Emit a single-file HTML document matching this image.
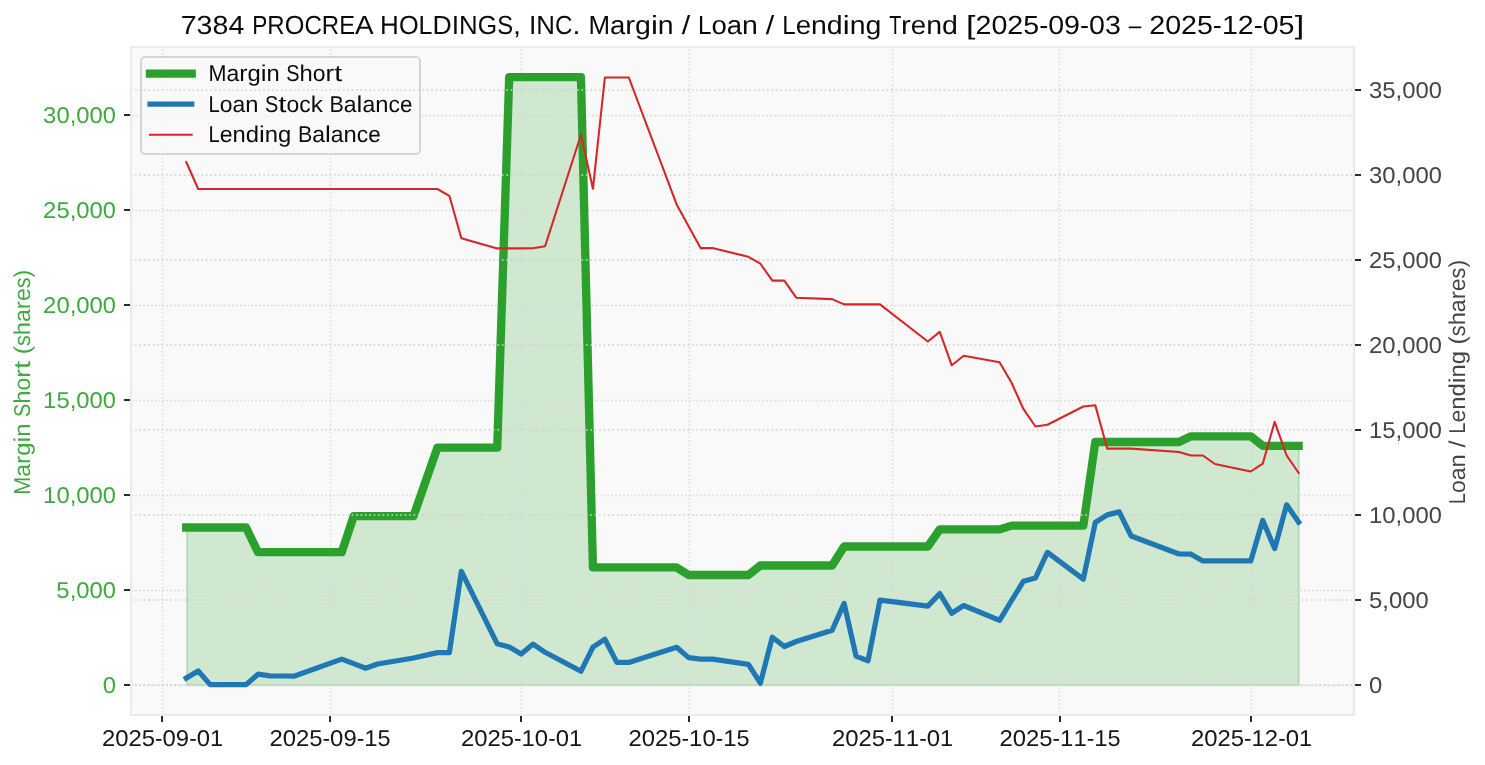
<!DOCTYPE html>
<html><head><meta charset="utf-8"><title>Margin / Loan / Lending Trend</title>
<style>html,body{margin:0;padding:0;background:#fff;}body{width:1485px;height:765px;overflow:hidden;font-family:"Liberation Sans",sans-serif;}svg{display:block;will-change:transform;}</style>
</head><body>
<svg width="1485" height="765" viewBox="0 0 1485 765" font-family="Liberation Sans, sans-serif" text-rendering="geometricPrecision">
<rect width="1485" height="765" fill="#ffffff"/>
<rect x="130.61" y="46.85" width="1223.8899999999999" height="668.34" fill="#f9f9f9"/>
<polygon points="186.90,527.50 198.20,527.50 210.16,527.50 246.05,527.50 258.01,552.20 269.97,552.20 281.93,552.20 293.89,552.20 341.74,552.20 353.70,516.10 365.66,516.10 377.62,516.10 413.50,516.10 437.42,447.70 449.38,447.70 461.35,447.70 497.23,447.70 509.19,77.20 521.15,77.20 533.11,77.20 545.07,77.20 580.95,77.20 592.92,567.40 604.88,567.40 616.84,567.40 628.80,567.40 676.64,567.40 688.60,575.00 700.57,575.00 712.53,575.00 748.41,575.00 760.37,565.50 772.33,565.50 784.29,565.50 796.25,565.50 832.14,565.50 844.10,546.50 856.06,546.50 868.02,546.50 879.98,546.50 927.82,546.50 939.79,529.40 951.75,529.40 963.71,529.40 999.59,529.40 1011.55,525.60 1023.51,525.60 1035.47,525.60 1047.43,525.60 1083.32,525.60 1095.28,442.00 1107.24,442.00 1119.20,442.00 1131.16,442.00 1179.01,442.00 1190.97,436.30 1202.93,436.30 1214.89,436.30 1250.77,436.30 1262.73,445.80 1274.69,445.80 1286.65,445.80 1299.00,445.80 1299.00,685.20 186.90,685.20" fill="#2ca02c" fill-opacity="0.2" stroke="#2ca02c" stroke-opacity="0.2" stroke-width="2.08"/>
<path d="M162.50,715.19V46.85M330.50,715.19V46.85M521.50,715.19V46.85M689.50,715.19V46.85M892.50,715.19V46.85M1059.50,715.19V46.85M1251.50,715.19V46.85" stroke="#d6d6d6" stroke-width="1.46" stroke-dasharray="1.46,2.41" stroke-dashoffset="1.0" fill="none"/>
<path d="M130.61,685.50H1354.50M130.61,590.50H1354.50M130.61,495.50H1354.50M130.61,400.50H1354.50M130.61,305.50H1354.50M130.61,210.50H1354.50M130.61,115.50H1354.50" stroke="#d6d6d6" stroke-width="1.46" stroke-dasharray="1.46,2.41" stroke-dashoffset="2.87" fill="none"/>
<polyline points="186.24,527.50 198.20,527.50 210.16,527.50 246.05,527.50 258.01,552.20 269.97,552.20 281.93,552.20 293.89,552.20 341.74,552.20 353.70,516.10 365.66,516.10 377.62,516.10 413.50,516.10 437.42,447.70 449.38,447.70 461.35,447.70 497.23,447.70 509.19,77.20 521.15,77.20 533.11,77.20 545.07,77.20 580.95,77.20 592.92,567.40 604.88,567.40 616.84,567.40 628.80,567.40 676.64,567.40 688.60,575.00 700.57,575.00 712.53,575.00 748.41,575.00 760.37,565.50 772.33,565.50 784.29,565.50 796.25,565.50 832.14,565.50 844.10,546.50 856.06,546.50 868.02,546.50 879.98,546.50 927.82,546.50 939.79,529.40 951.75,529.40 963.71,529.40 999.59,529.40 1011.55,525.60 1023.51,525.60 1035.47,525.60 1047.43,525.60 1083.32,525.60 1095.28,442.00 1107.24,442.00 1119.20,442.00 1131.16,442.00 1179.01,442.00 1190.97,436.30 1202.93,436.30 1214.89,436.30 1250.77,436.30 1262.73,445.80 1274.69,445.80 1286.65,445.80 1298.62,445.80" fill="none" stroke="#2ca02c" stroke-width="8.33" stroke-linejoin="round" stroke-linecap="square"/>
<rect x="141.0" y="57.0" width="279.0" height="97.0" rx="4.2" ry="4.2" fill="#f9f9f9" fill-opacity="0.8" stroke="#d5d5d5" stroke-width="2"/>
<path d="M150.0,73.6H191.7" stroke="#2ca02c" stroke-width="8.33" stroke-linecap="square"/>
<path d="M150.0,104.2H191.7" stroke="#1f77b4" stroke-width="5.21" stroke-linecap="square"/>
<path d="M150.0,134.8H191.7" stroke="#d62728" stroke-width="2.08" stroke-linecap="square"/>
<text y="81.00" font-size="22.92" fill="#000" fill-opacity="0.955" ><tspan x="208.40" textLength="18.01" lengthAdjust="spacingAndGlyphs">M</tspan><tspan x="226.41">a</tspan><tspan x="239.20" textLength="8.21" lengthAdjust="spacingAndGlyphs">r</tspan><tspan x="247.41" textLength="13.25" lengthAdjust="spacingAndGlyphs">g</tspan><tspan x="260.66" textLength="5.80" lengthAdjust="spacingAndGlyphs">i</tspan><tspan x="266.46" textLength="13.23" lengthAdjust="spacingAndGlyphs">n</tspan> <tspan x="286.33" textLength="13.25" lengthAdjust="spacingAndGlyphs">S</tspan><tspan x="299.58" textLength="13.23" lengthAdjust="spacingAndGlyphs">h</tspan><tspan x="312.81">o</tspan><tspan x="325.58" textLength="8.58" lengthAdjust="spacingAndGlyphs">r</tspan><tspan x="334.16" textLength="7.93" lengthAdjust="spacingAndGlyphs">t</tspan></text>
<text y="111.60" font-size="22.92" fill="#000" fill-opacity="0.955" ><tspan x="208.40" textLength="11.26" lengthAdjust="spacingAndGlyphs">L</tspan><tspan x="219.66">o</tspan><tspan x="232.43">a</tspan><tspan x="245.22" textLength="13.23" lengthAdjust="spacingAndGlyphs">n</tspan> <tspan x="265.08" textLength="13.25" lengthAdjust="spacingAndGlyphs">S</tspan><tspan x="278.34" textLength="8.18" lengthAdjust="spacingAndGlyphs">t</tspan><tspan x="286.52">o</tspan><tspan x="299.29">c</tspan><tspan x="310.77" textLength="12.09" lengthAdjust="spacingAndGlyphs">k</tspan> <tspan x="329.49" textLength="14.32" lengthAdjust="spacingAndGlyphs">B</tspan><tspan x="343.81">a</tspan><tspan x="356.61" textLength="5.80" lengthAdjust="spacingAndGlyphs">l</tspan><tspan x="362.41">a</tspan><tspan x="375.20" textLength="13.23" lengthAdjust="spacingAndGlyphs">n</tspan><tspan x="388.43">c</tspan><tspan x="399.91" textLength="12.44" lengthAdjust="spacingAndGlyphs">e</tspan></text>
<text y="142.20" font-size="22.92" fill="#000" fill-opacity="0.955" ><tspan x="208.40" textLength="11.26" lengthAdjust="spacingAndGlyphs">L</tspan><tspan x="219.66" textLength="12.84" lengthAdjust="spacingAndGlyphs">e</tspan><tspan x="232.50" textLength="13.23" lengthAdjust="spacingAndGlyphs">n</tspan><tspan x="245.73" textLength="13.25" lengthAdjust="spacingAndGlyphs">d</tspan><tspan x="258.98" textLength="5.80" lengthAdjust="spacingAndGlyphs">i</tspan><tspan x="264.78" textLength="13.23" lengthAdjust="spacingAndGlyphs">n</tspan><tspan x="278.01" textLength="13.25" lengthAdjust="spacingAndGlyphs">g</tspan> <tspan x="297.90" textLength="14.32" lengthAdjust="spacingAndGlyphs">B</tspan><tspan x="312.22">a</tspan><tspan x="325.01" textLength="5.80" lengthAdjust="spacingAndGlyphs">l</tspan><tspan x="330.81">a</tspan><tspan x="343.60" textLength="13.23" lengthAdjust="spacingAndGlyphs">n</tspan><tspan x="356.83">c</tspan><tspan x="368.31" textLength="12.51" lengthAdjust="spacingAndGlyphs">e</tspan></text>
<path d="M130.61,685.00H1354.50M130.61,600.00H1354.50M130.61,515.00H1354.50M130.61,430.00H1354.50M130.61,345.00H1354.50M130.61,260.00H1354.50M130.61,175.00H1354.50M130.61,90.00H1354.50" stroke="#cfcfcf" stroke-width="1.67" stroke-dasharray="1.67,2.75" fill="none"/>
<polyline points="186.24,678.10 198.20,670.90 210.16,684.60 246.05,684.60 258.01,674.20 269.97,675.90 281.93,676.00 293.89,676.20 341.74,659.10 353.70,663.60 365.66,668.20 377.62,664.00 413.50,658.00 437.42,652.60 449.38,652.60 461.35,571.40 497.23,643.80 509.19,647.00 521.15,654.00 533.11,644.10 545.07,652.30 580.95,671.30 592.92,647.10 604.88,639.20 616.84,662.40 628.80,662.40 676.64,647.30 688.60,657.60 700.57,659.20 712.53,659.20 748.41,664.40 760.37,683.20 772.33,637.20 784.29,646.50 796.25,641.50 832.14,630.30 844.10,603.40 856.06,656.10 868.02,660.80 879.98,600.10 927.82,606.10 939.79,593.60 951.75,613.30 963.71,605.50 999.59,620.40 1011.55,600.50 1023.51,581.20 1035.47,577.90 1047.43,552.40 1083.32,579.10 1095.28,522.50 1107.24,514.90 1119.20,511.90 1131.16,536.00 1179.01,554.00 1190.97,554.20 1202.93,560.90 1214.89,560.90 1250.77,560.90 1262.73,520.30 1274.69,548.60 1286.65,504.80 1298.62,522.20" fill="none" stroke="#1f77b4" stroke-width="5.21" stroke-linejoin="round" stroke-linecap="square"/>
<polyline points="186.24,162.00 198.20,189.00 210.16,189.00 246.05,189.00 258.01,189.00 269.97,189.00 281.93,189.00 293.89,189.00 341.74,189.00 353.70,189.00 365.66,189.00 377.62,189.00 413.50,189.00 437.42,189.00 449.38,195.80 461.35,238.20 497.23,248.40 509.19,248.40 521.15,248.40 533.11,248.20 545.07,246.30 580.95,134.80 592.92,188.80 604.88,77.50 616.84,77.50 628.80,77.50 676.64,204.40 700.57,248.10 712.53,248.10 748.41,256.80 760.37,263.70 772.33,280.60 784.29,280.60 796.25,297.70 832.14,299.10 844.10,304.40 856.06,304.40 868.02,304.40 879.98,304.40 927.82,341.50 939.79,331.90 951.75,365.30 963.71,355.80 999.59,362.20 1011.55,382.80 1023.51,409.20 1035.47,426.50 1047.43,424.70 1083.32,406.50 1095.28,405.20 1107.24,448.60 1119.20,448.60 1131.16,448.60 1179.01,452.00 1190.97,455.50 1202.93,455.50 1214.89,464.00 1250.77,471.50 1262.73,463.70 1274.69,421.90 1286.65,455.50 1298.62,472.90" fill="none" stroke="#d62728" stroke-width="2.08" stroke-linejoin="round" stroke-linecap="square"/>
<path d="M161,715h2v7h-2zM329,715h2v7h-2zM520,715h2v7h-2zM688,715h2v7h-2zM891,715h2v7h-2zM1059,715h2v7h-2zM1250,715h2v7h-2zM124,684h7v2h-7zM124,589h7v2h-7zM124,494h7v2h-7zM124,399h7v2h-7zM124,304h7v2h-7zM124,209h7v2h-7zM124,114h7v2h-7zM1354,684h7v2h-7zM1354,599h7v2h-7zM1354,514h7v2h-7zM1354,429h7v2h-7zM1354,344h7v2h-7zM1354,259h7v2h-7zM1354,174h7v2h-7zM1354,89h7v2h-7z" fill="#2a2a2a" shape-rendering="crispEdges"/>
<rect x="131" y="47" width="1223" height="668" fill="none" stroke="#ebebeb" stroke-width="1.67"/>
<rect x="131" y="47" width="1223" height="668" fill="none" stroke="#ebebeb" stroke-width="1.67"/>
<text y="745.90" font-size="22.92" fill="#000" fill-opacity="0.915" ><tspan x="101.93" textLength="13.28" lengthAdjust="spacingAndGlyphs">2</tspan><tspan x="115.21" textLength="13.28" lengthAdjust="spacingAndGlyphs">0</tspan><tspan x="128.50" textLength="13.28" lengthAdjust="spacingAndGlyphs">2</tspan><tspan x="141.78" textLength="13.28" lengthAdjust="spacingAndGlyphs">5</tspan><tspan x="155.06" textLength="7.53" lengthAdjust="spacingAndGlyphs">-</tspan><tspan x="162.59" textLength="13.28" lengthAdjust="spacingAndGlyphs">0</tspan><tspan x="175.87" textLength="13.28" lengthAdjust="spacingAndGlyphs">9</tspan><tspan x="189.15" textLength="7.53" lengthAdjust="spacingAndGlyphs">-</tspan><tspan x="196.69" textLength="13.28" lengthAdjust="spacingAndGlyphs">0</tspan><tspan x="209.97" textLength="13.04" lengthAdjust="spacingAndGlyphs">1</tspan></text>
<text y="745.90" font-size="22.92" fill="#000" fill-opacity="0.915" ><tspan x="269.47" textLength="13.28" lengthAdjust="spacingAndGlyphs">2</tspan><tspan x="282.75" textLength="13.28" lengthAdjust="spacingAndGlyphs">0</tspan><tspan x="296.03" textLength="13.28" lengthAdjust="spacingAndGlyphs">2</tspan><tspan x="309.31" textLength="13.28" lengthAdjust="spacingAndGlyphs">5</tspan><tspan x="322.60" textLength="7.53" lengthAdjust="spacingAndGlyphs">-</tspan><tspan x="330.13" textLength="13.28" lengthAdjust="spacingAndGlyphs">0</tspan><tspan x="343.41" textLength="13.28" lengthAdjust="spacingAndGlyphs">9</tspan><tspan x="356.69" textLength="7.53" lengthAdjust="spacingAndGlyphs">-</tspan><tspan x="364.22" textLength="13.28" lengthAdjust="spacingAndGlyphs">1</tspan><tspan x="377.51" textLength="13.04" lengthAdjust="spacingAndGlyphs">5</tspan></text>
<text y="745.90" font-size="22.92" fill="#000" fill-opacity="0.915" ><tspan x="460.94" textLength="13.28" lengthAdjust="spacingAndGlyphs">2</tspan><tspan x="474.22" textLength="13.28" lengthAdjust="spacingAndGlyphs">0</tspan><tspan x="487.51" textLength="13.28" lengthAdjust="spacingAndGlyphs">2</tspan><tspan x="500.79" textLength="13.28" lengthAdjust="spacingAndGlyphs">5</tspan><tspan x="514.07" textLength="7.53" lengthAdjust="spacingAndGlyphs">-</tspan><tspan x="521.60" textLength="13.28" lengthAdjust="spacingAndGlyphs">1</tspan><tspan x="534.88" textLength="13.28" lengthAdjust="spacingAndGlyphs">0</tspan><tspan x="548.16" textLength="7.53" lengthAdjust="spacingAndGlyphs">-</tspan><tspan x="555.70" textLength="13.28" lengthAdjust="spacingAndGlyphs">0</tspan><tspan x="568.98" textLength="13.04" lengthAdjust="spacingAndGlyphs">1</tspan></text>
<text y="745.90" font-size="22.92" fill="#000" fill-opacity="0.915" ><tspan x="628.48" textLength="13.28" lengthAdjust="spacingAndGlyphs">2</tspan><tspan x="641.76" textLength="13.28" lengthAdjust="spacingAndGlyphs">0</tspan><tspan x="655.04" textLength="13.28" lengthAdjust="spacingAndGlyphs">2</tspan><tspan x="668.32" textLength="13.28" lengthAdjust="spacingAndGlyphs">5</tspan><tspan x="681.61" textLength="7.53" lengthAdjust="spacingAndGlyphs">-</tspan><tspan x="689.14" textLength="13.28" lengthAdjust="spacingAndGlyphs">1</tspan><tspan x="702.42" textLength="13.28" lengthAdjust="spacingAndGlyphs">0</tspan><tspan x="715.70" textLength="7.53" lengthAdjust="spacingAndGlyphs">-</tspan><tspan x="723.23" textLength="13.28" lengthAdjust="spacingAndGlyphs">1</tspan><tspan x="736.52" textLength="13.04" lengthAdjust="spacingAndGlyphs">5</tspan></text>
<text y="745.90" font-size="22.92" fill="#000" fill-opacity="0.915" ><tspan x="831.92" textLength="13.28" lengthAdjust="spacingAndGlyphs">2</tspan><tspan x="845.20" textLength="13.28" lengthAdjust="spacingAndGlyphs">0</tspan><tspan x="858.48" textLength="13.28" lengthAdjust="spacingAndGlyphs">2</tspan><tspan x="871.76" textLength="13.28" lengthAdjust="spacingAndGlyphs">5</tspan><tspan x="885.05" textLength="7.53" lengthAdjust="spacingAndGlyphs">-</tspan><tspan x="892.58" textLength="13.28" lengthAdjust="spacingAndGlyphs">1</tspan><tspan x="905.86" textLength="13.28" lengthAdjust="spacingAndGlyphs">1</tspan><tspan x="919.14" textLength="7.53" lengthAdjust="spacingAndGlyphs">-</tspan><tspan x="926.67" textLength="13.28" lengthAdjust="spacingAndGlyphs">0</tspan><tspan x="939.95" textLength="13.04" lengthAdjust="spacingAndGlyphs">1</tspan></text>
<text y="745.90" font-size="22.92" fill="#000" fill-opacity="0.915" ><tspan x="999.46" textLength="13.28" lengthAdjust="spacingAndGlyphs">2</tspan><tspan x="1012.74" textLength="13.28" lengthAdjust="spacingAndGlyphs">0</tspan><tspan x="1026.02" textLength="13.28" lengthAdjust="spacingAndGlyphs">2</tspan><tspan x="1039.30" textLength="13.28" lengthAdjust="spacingAndGlyphs">5</tspan><tspan x="1052.58" textLength="7.53" lengthAdjust="spacingAndGlyphs">-</tspan><tspan x="1060.12" textLength="13.28" lengthAdjust="spacingAndGlyphs">1</tspan><tspan x="1073.40" textLength="13.28" lengthAdjust="spacingAndGlyphs">1</tspan><tspan x="1086.68" textLength="7.53" lengthAdjust="spacingAndGlyphs">-</tspan><tspan x="1094.21" textLength="13.28" lengthAdjust="spacingAndGlyphs">1</tspan><tspan x="1107.49" textLength="13.04" lengthAdjust="spacingAndGlyphs">5</tspan></text>
<text y="745.90" font-size="22.92" fill="#000" fill-opacity="0.915" ><tspan x="1190.93" textLength="13.28" lengthAdjust="spacingAndGlyphs">2</tspan><tspan x="1204.21" textLength="13.28" lengthAdjust="spacingAndGlyphs">0</tspan><tspan x="1217.49" textLength="13.28" lengthAdjust="spacingAndGlyphs">2</tspan><tspan x="1230.77" textLength="13.28" lengthAdjust="spacingAndGlyphs">5</tspan><tspan x="1244.06" textLength="7.53" lengthAdjust="spacingAndGlyphs">-</tspan><tspan x="1251.59" textLength="13.28" lengthAdjust="spacingAndGlyphs">1</tspan><tspan x="1264.87" textLength="13.28" lengthAdjust="spacingAndGlyphs">2</tspan><tspan x="1278.15" textLength="7.53" lengthAdjust="spacingAndGlyphs">-</tspan><tspan x="1285.68" textLength="13.28" lengthAdjust="spacingAndGlyphs">0</tspan><tspan x="1298.96" textLength="13.04" lengthAdjust="spacingAndGlyphs">1</tspan></text>
<text y="692.80" font-size="22.92" fill="#2ca02c" fill-opacity="0.9" ><tspan x="102.78" textLength="13.25" lengthAdjust="spacingAndGlyphs">0</tspan></text>
<text y="597.80" font-size="22.92" fill="#2ca02c" fill-opacity="0.9" ><tspan x="56.39" textLength="13.28" lengthAdjust="spacingAndGlyphs">5</tspan><tspan x="69.67" textLength="6.64" lengthAdjust="spacingAndGlyphs">,</tspan><tspan x="76.30" textLength="13.28" lengthAdjust="spacingAndGlyphs">0</tspan><tspan x="89.59" textLength="13.28" lengthAdjust="spacingAndGlyphs">0</tspan><tspan x="102.87" textLength="13.16" lengthAdjust="spacingAndGlyphs">0</tspan></text>
<text y="502.80" font-size="22.92" fill="#2ca02c" fill-opacity="0.9" ><tspan x="43.13" textLength="13.28" lengthAdjust="spacingAndGlyphs">1</tspan><tspan x="56.41" textLength="13.28" lengthAdjust="spacingAndGlyphs">0</tspan><tspan x="69.70" textLength="6.64" lengthAdjust="spacingAndGlyphs">,</tspan><tspan x="76.33" textLength="13.28" lengthAdjust="spacingAndGlyphs">0</tspan><tspan x="89.61" textLength="13.28" lengthAdjust="spacingAndGlyphs">0</tspan><tspan x="102.89" textLength="13.14" lengthAdjust="spacingAndGlyphs">0</tspan></text>
<text y="407.80" font-size="22.92" fill="#2ca02c" fill-opacity="0.9" ><tspan x="43.13" textLength="13.28" lengthAdjust="spacingAndGlyphs">1</tspan><tspan x="56.41" textLength="13.28" lengthAdjust="spacingAndGlyphs">5</tspan><tspan x="69.70" textLength="6.64" lengthAdjust="spacingAndGlyphs">,</tspan><tspan x="76.33" textLength="13.28" lengthAdjust="spacingAndGlyphs">0</tspan><tspan x="89.61" textLength="13.28" lengthAdjust="spacingAndGlyphs">0</tspan><tspan x="102.89" textLength="13.14" lengthAdjust="spacingAndGlyphs">0</tspan></text>
<text y="312.80" font-size="22.92" fill="#2ca02c" fill-opacity="0.9" ><tspan x="43.13" textLength="13.28" lengthAdjust="spacingAndGlyphs">2</tspan><tspan x="56.41" textLength="13.28" lengthAdjust="spacingAndGlyphs">0</tspan><tspan x="69.70" textLength="6.64" lengthAdjust="spacingAndGlyphs">,</tspan><tspan x="76.33" textLength="13.28" lengthAdjust="spacingAndGlyphs">0</tspan><tspan x="89.61" textLength="13.28" lengthAdjust="spacingAndGlyphs">0</tspan><tspan x="102.89" textLength="13.14" lengthAdjust="spacingAndGlyphs">0</tspan></text>
<text y="217.80" font-size="22.92" fill="#2ca02c" fill-opacity="0.9" ><tspan x="43.13" textLength="13.28" lengthAdjust="spacingAndGlyphs">2</tspan><tspan x="56.41" textLength="13.28" lengthAdjust="spacingAndGlyphs">5</tspan><tspan x="69.70" textLength="6.64" lengthAdjust="spacingAndGlyphs">,</tspan><tspan x="76.33" textLength="13.28" lengthAdjust="spacingAndGlyphs">0</tspan><tspan x="89.61" textLength="13.28" lengthAdjust="spacingAndGlyphs">0</tspan><tspan x="102.89" textLength="13.14" lengthAdjust="spacingAndGlyphs">0</tspan></text>
<text y="122.80" font-size="22.92" fill="#2ca02c" fill-opacity="0.9" ><tspan x="43.13" textLength="13.28" lengthAdjust="spacingAndGlyphs">3</tspan><tspan x="56.41" textLength="13.28" lengthAdjust="spacingAndGlyphs">0</tspan><tspan x="69.70" textLength="6.64" lengthAdjust="spacingAndGlyphs">,</tspan><tspan x="76.33" textLength="13.28" lengthAdjust="spacingAndGlyphs">0</tspan><tspan x="89.61" textLength="13.28" lengthAdjust="spacingAndGlyphs">0</tspan><tspan x="102.89" textLength="13.14" lengthAdjust="spacingAndGlyphs">0</tspan></text>
<text y="692.80" font-size="22.92" fill="#333333" fill-opacity="0.915" ><tspan x="1369.08" textLength="13.25" lengthAdjust="spacingAndGlyphs">0</tspan></text>
<text y="607.80" font-size="22.92" fill="#333333" fill-opacity="0.915" ><tspan x="1369.08" textLength="13.28" lengthAdjust="spacingAndGlyphs">5</tspan><tspan x="1382.36" textLength="6.64" lengthAdjust="spacingAndGlyphs">,</tspan><tspan x="1389.00" textLength="13.28" lengthAdjust="spacingAndGlyphs">0</tspan><tspan x="1402.28" textLength="13.28" lengthAdjust="spacingAndGlyphs">0</tspan><tspan x="1415.56" textLength="13.16" lengthAdjust="spacingAndGlyphs">0</tspan></text>
<text y="522.80" font-size="22.92" fill="#333333" fill-opacity="0.915" ><tspan x="1369.08" textLength="13.28" lengthAdjust="spacingAndGlyphs">1</tspan><tspan x="1382.36" textLength="13.28" lengthAdjust="spacingAndGlyphs">0</tspan><tspan x="1395.64" textLength="6.64" lengthAdjust="spacingAndGlyphs">,</tspan><tspan x="1402.28" textLength="13.28" lengthAdjust="spacingAndGlyphs">0</tspan><tspan x="1415.56" textLength="13.28" lengthAdjust="spacingAndGlyphs">0</tspan><tspan x="1428.84" textLength="13.14" lengthAdjust="spacingAndGlyphs">0</tspan></text>
<text y="437.80" font-size="22.92" fill="#333333" fill-opacity="0.915" ><tspan x="1369.08" textLength="13.28" lengthAdjust="spacingAndGlyphs">1</tspan><tspan x="1382.36" textLength="13.28" lengthAdjust="spacingAndGlyphs">5</tspan><tspan x="1395.64" textLength="6.64" lengthAdjust="spacingAndGlyphs">,</tspan><tspan x="1402.28" textLength="13.28" lengthAdjust="spacingAndGlyphs">0</tspan><tspan x="1415.56" textLength="13.28" lengthAdjust="spacingAndGlyphs">0</tspan><tspan x="1428.84" textLength="13.14" lengthAdjust="spacingAndGlyphs">0</tspan></text>
<text y="352.80" font-size="22.92" fill="#333333" fill-opacity="0.915" ><tspan x="1369.08" textLength="13.28" lengthAdjust="spacingAndGlyphs">2</tspan><tspan x="1382.36" textLength="13.28" lengthAdjust="spacingAndGlyphs">0</tspan><tspan x="1395.64" textLength="6.64" lengthAdjust="spacingAndGlyphs">,</tspan><tspan x="1402.28" textLength="13.28" lengthAdjust="spacingAndGlyphs">0</tspan><tspan x="1415.56" textLength="13.28" lengthAdjust="spacingAndGlyphs">0</tspan><tspan x="1428.84" textLength="13.14" lengthAdjust="spacingAndGlyphs">0</tspan></text>
<text y="267.80" font-size="22.92" fill="#333333" fill-opacity="0.915" ><tspan x="1369.08" textLength="13.28" lengthAdjust="spacingAndGlyphs">2</tspan><tspan x="1382.36" textLength="13.28" lengthAdjust="spacingAndGlyphs">5</tspan><tspan x="1395.64" textLength="6.64" lengthAdjust="spacingAndGlyphs">,</tspan><tspan x="1402.28" textLength="13.28" lengthAdjust="spacingAndGlyphs">0</tspan><tspan x="1415.56" textLength="13.28" lengthAdjust="spacingAndGlyphs">0</tspan><tspan x="1428.84" textLength="13.14" lengthAdjust="spacingAndGlyphs">0</tspan></text>
<text y="182.80" font-size="22.92" fill="#333333" fill-opacity="0.915" ><tspan x="1369.08" textLength="13.28" lengthAdjust="spacingAndGlyphs">3</tspan><tspan x="1382.36" textLength="13.28" lengthAdjust="spacingAndGlyphs">0</tspan><tspan x="1395.64" textLength="6.64" lengthAdjust="spacingAndGlyphs">,</tspan><tspan x="1402.28" textLength="13.28" lengthAdjust="spacingAndGlyphs">0</tspan><tspan x="1415.56" textLength="13.28" lengthAdjust="spacingAndGlyphs">0</tspan><tspan x="1428.84" textLength="13.14" lengthAdjust="spacingAndGlyphs">0</tspan></text>
<text y="97.80" font-size="22.92" fill="#333333" fill-opacity="0.915" ><tspan x="1369.08" textLength="13.28" lengthAdjust="spacingAndGlyphs">3</tspan><tspan x="1382.36" textLength="13.28" lengthAdjust="spacingAndGlyphs">5</tspan><tspan x="1395.64" textLength="6.64" lengthAdjust="spacingAndGlyphs">,</tspan><tspan x="1402.28" textLength="13.28" lengthAdjust="spacingAndGlyphs">0</tspan><tspan x="1415.56" textLength="13.28" lengthAdjust="spacingAndGlyphs">0</tspan><tspan x="1428.84" textLength="13.14" lengthAdjust="spacingAndGlyphs">0</tspan></text>
<text y="0.00" font-size="22.92" fill="#2ca02c" fill-opacity="0.9" transform="translate(30.2,382.22) rotate(-90)"><tspan x="-112.59" textLength="18.01" lengthAdjust="spacingAndGlyphs">M</tspan><tspan x="-94.57">a</tspan><tspan x="-81.78" textLength="8.21" lengthAdjust="spacingAndGlyphs">r</tspan><tspan x="-73.58" textLength="13.25" lengthAdjust="spacingAndGlyphs">g</tspan><tspan x="-60.32" textLength="5.80" lengthAdjust="spacingAndGlyphs">i</tspan><tspan x="-54.52" textLength="13.23" lengthAdjust="spacingAndGlyphs">n</tspan> <tspan x="-34.66" textLength="13.25" lengthAdjust="spacingAndGlyphs">S</tspan><tspan x="-21.41" textLength="13.23" lengthAdjust="spacingAndGlyphs">h</tspan><tspan x="-8.18">o</tspan><tspan x="4.59" textLength="8.58" lengthAdjust="spacingAndGlyphs">r</tspan><tspan x="13.18" textLength="8.18" lengthAdjust="spacingAndGlyphs">t</tspan> <tspan x="28.00" textLength="8.14" lengthAdjust="spacingAndGlyphs">(</tspan><tspan x="36.14" textLength="10.88" lengthAdjust="spacingAndGlyphs">s</tspan><tspan x="47.02" textLength="13.23" lengthAdjust="spacingAndGlyphs">h</tspan><tspan x="60.25">a</tspan><tspan x="73.04" textLength="8.08" lengthAdjust="spacingAndGlyphs">r</tspan><tspan x="81.12" textLength="12.84" lengthAdjust="spacingAndGlyphs">e</tspan><tspan x="93.96" textLength="10.88" lengthAdjust="spacingAndGlyphs">s</tspan><tspan x="104.84" textLength="7.74" lengthAdjust="spacingAndGlyphs">)</tspan></text>
<text y="0.00" font-size="22.92" fill="#333333" fill-opacity="0.915" transform="translate(1465.2,382.02) rotate(-90)"><tspan x="-122.20" textLength="11.26" lengthAdjust="spacingAndGlyphs">L</tspan><tspan x="-110.95">o</tspan><tspan x="-98.18">a</tspan><tspan x="-85.38" textLength="13.23" lengthAdjust="spacingAndGlyphs">n</tspan> <tspan x="-65.52" textLength="7.03" lengthAdjust="spacingAndGlyphs">/</tspan> <tspan x="-51.85" textLength="11.26" lengthAdjust="spacingAndGlyphs">L</tspan><tspan x="-40.59" textLength="12.84" lengthAdjust="spacingAndGlyphs">e</tspan><tspan x="-27.75" textLength="13.23" lengthAdjust="spacingAndGlyphs">n</tspan><tspan x="-14.52" textLength="13.25" lengthAdjust="spacingAndGlyphs">d</tspan><tspan x="-1.27" textLength="5.80" lengthAdjust="spacingAndGlyphs">i</tspan><tspan x="4.53" textLength="13.23" lengthAdjust="spacingAndGlyphs">n</tspan><tspan x="17.76" textLength="13.25" lengthAdjust="spacingAndGlyphs">g</tspan> <tspan x="37.65" textLength="8.14" lengthAdjust="spacingAndGlyphs">(</tspan><tspan x="45.79" textLength="10.88" lengthAdjust="spacingAndGlyphs">s</tspan><tspan x="56.67" textLength="13.23" lengthAdjust="spacingAndGlyphs">h</tspan><tspan x="69.90">a</tspan><tspan x="82.69" textLength="8.08" lengthAdjust="spacingAndGlyphs">r</tspan><tspan x="90.77" textLength="12.84" lengthAdjust="spacingAndGlyphs">e</tspan><tspan x="103.61" textLength="10.88" lengthAdjust="spacingAndGlyphs">s</tspan><tspan x="114.49" textLength="7.71" lengthAdjust="spacingAndGlyphs">)</tspan></text>
<text y="33.80" font-size="26.25" fill="#000" fill-opacity="0.96" ><tspan x="180.72" textLength="15.91" lengthAdjust="spacingAndGlyphs">7</tspan><tspan x="196.63" textLength="15.91" lengthAdjust="spacingAndGlyphs">3</tspan><tspan x="212.53" textLength="15.91" lengthAdjust="spacingAndGlyphs">8</tspan><tspan x="228.44" textLength="15.91" lengthAdjust="spacingAndGlyphs">4</tspan> <tspan x="252.29" textLength="15.08" lengthAdjust="spacingAndGlyphs">P</tspan><tspan x="267.37" textLength="17.37" lengthAdjust="spacingAndGlyphs">R</tspan><tspan x="284.74" textLength="19.68" lengthAdjust="spacingAndGlyphs">O</tspan><tspan x="304.42" textLength="17.46" lengthAdjust="spacingAndGlyphs">C</tspan><tspan x="321.87" textLength="17.37" lengthAdjust="spacingAndGlyphs">R</tspan><tspan x="339.24" textLength="15.80" lengthAdjust="spacingAndGlyphs">E</tspan><tspan x="355.04" textLength="17.10" lengthAdjust="spacingAndGlyphs">A</tspan> <tspan x="380.09" textLength="18.80" lengthAdjust="spacingAndGlyphs">H</tspan><tspan x="398.89" textLength="19.68" lengthAdjust="spacingAndGlyphs">O</tspan><tspan x="418.56" textLength="13.93" lengthAdjust="spacingAndGlyphs">L</tspan><tspan x="432.49" textLength="19.25" lengthAdjust="spacingAndGlyphs">D</tspan><tspan x="451.74" textLength="7.37" lengthAdjust="spacingAndGlyphs">I</tspan><tspan x="459.12" textLength="18.70" lengthAdjust="spacingAndGlyphs">N</tspan><tspan x="477.82" textLength="19.37" lengthAdjust="spacingAndGlyphs">G</tspan><tspan x="497.19" textLength="15.87" lengthAdjust="spacingAndGlyphs">S</tspan><tspan x="513.06" textLength="7.95" lengthAdjust="spacingAndGlyphs">,</tspan> <tspan x="528.95" textLength="7.37" lengthAdjust="spacingAndGlyphs">I</tspan><tspan x="536.33" textLength="18.70" lengthAdjust="spacingAndGlyphs">N</tspan><tspan x="555.03" textLength="17.46" lengthAdjust="spacingAndGlyphs">C</tspan><tspan x="572.48" textLength="7.95" lengthAdjust="spacingAndGlyphs">.</tspan> <tspan x="588.38" textLength="21.57" lengthAdjust="spacingAndGlyphs">M</tspan><tspan x="609.95" textLength="15.32" lengthAdjust="spacingAndGlyphs">a</tspan><tspan x="625.27" textLength="9.78" lengthAdjust="spacingAndGlyphs">r</tspan><tspan x="635.04" textLength="15.87" lengthAdjust="spacingAndGlyphs">g</tspan><tspan x="650.91" textLength="6.95" lengthAdjust="spacingAndGlyphs">i</tspan><tspan x="657.86" textLength="15.84" lengthAdjust="spacingAndGlyphs">n</tspan> <tspan x="681.65" textLength="8.42" lengthAdjust="spacingAndGlyphs">/</tspan> <tspan x="698.02" textLength="13.43" lengthAdjust="spacingAndGlyphs">L</tspan><tspan x="711.45" textLength="15.30" lengthAdjust="spacingAndGlyphs">o</tspan><tspan x="726.74" textLength="15.32" lengthAdjust="spacingAndGlyphs">a</tspan><tspan x="742.06" textLength="15.84" lengthAdjust="spacingAndGlyphs">n</tspan> <tspan x="765.86" textLength="8.42" lengthAdjust="spacingAndGlyphs">/</tspan> <tspan x="782.23" textLength="13.43" lengthAdjust="spacingAndGlyphs">L</tspan><tspan x="795.65" textLength="15.38" lengthAdjust="spacingAndGlyphs">e</tspan><tspan x="811.03" textLength="15.84" lengthAdjust="spacingAndGlyphs">n</tspan><tspan x="826.88" textLength="15.87" lengthAdjust="spacingAndGlyphs">d</tspan><tspan x="842.75" textLength="6.95" lengthAdjust="spacingAndGlyphs">i</tspan><tspan x="849.69" textLength="15.84" lengthAdjust="spacingAndGlyphs">n</tspan><tspan x="865.54" textLength="15.87" lengthAdjust="spacingAndGlyphs">g</tspan> <tspan x="889.17" textLength="12.03" lengthAdjust="spacingAndGlyphs">T</tspan><tspan x="901.00" textLength="9.78" lengthAdjust="spacingAndGlyphs">r</tspan><tspan x="910.78" textLength="15.38" lengthAdjust="spacingAndGlyphs">e</tspan><tspan x="926.16" textLength="15.84" lengthAdjust="spacingAndGlyphs">n</tspan><tspan x="942.00" textLength="15.87" lengthAdjust="spacingAndGlyphs">d</tspan> <tspan x="965.96" textLength="9.48" lengthAdjust="spacingAndGlyphs">[</tspan><tspan x="975.57" textLength="15.91" lengthAdjust="spacingAndGlyphs">2</tspan><tspan x="991.48" textLength="15.91" lengthAdjust="spacingAndGlyphs">0</tspan><tspan x="1007.39" textLength="15.91" lengthAdjust="spacingAndGlyphs">2</tspan><tspan x="1023.29" textLength="15.91" lengthAdjust="spacingAndGlyphs">5</tspan><tspan x="1039.20" textLength="9.02" lengthAdjust="spacingAndGlyphs">-</tspan><tspan x="1048.22" textLength="15.91" lengthAdjust="spacingAndGlyphs">0</tspan><tspan x="1064.12" textLength="15.91" lengthAdjust="spacingAndGlyphs">9</tspan><tspan x="1080.03" textLength="9.02" lengthAdjust="spacingAndGlyphs">-</tspan><tspan x="1089.05" textLength="15.91" lengthAdjust="spacingAndGlyphs">0</tspan><tspan x="1104.96" textLength="15.91" lengthAdjust="spacingAndGlyphs">3</tspan> <tspan x="1128.81" textLength="12.50" lengthAdjust="spacingAndGlyphs">–</tspan> <tspan x="1149.26" textLength="15.91" lengthAdjust="spacingAndGlyphs">2</tspan><tspan x="1165.16" textLength="15.91" lengthAdjust="spacingAndGlyphs">0</tspan><tspan x="1181.07" textLength="15.91" lengthAdjust="spacingAndGlyphs">2</tspan><tspan x="1196.97" textLength="15.91" lengthAdjust="spacingAndGlyphs">5</tspan><tspan x="1212.88" textLength="9.02" lengthAdjust="spacingAndGlyphs">-</tspan><tspan x="1221.90" textLength="15.91" lengthAdjust="spacingAndGlyphs">1</tspan><tspan x="1237.81" textLength="15.91" lengthAdjust="spacingAndGlyphs">2</tspan><tspan x="1253.71" textLength="9.02" lengthAdjust="spacingAndGlyphs">-</tspan><tspan x="1262.73" textLength="15.91" lengthAdjust="spacingAndGlyphs">0</tspan><tspan x="1278.64" textLength="15.91" lengthAdjust="spacingAndGlyphs">5</tspan><tspan x="1294.72" textLength="9.48" lengthAdjust="spacingAndGlyphs">]</tspan></text>
</svg>
</body></html>
